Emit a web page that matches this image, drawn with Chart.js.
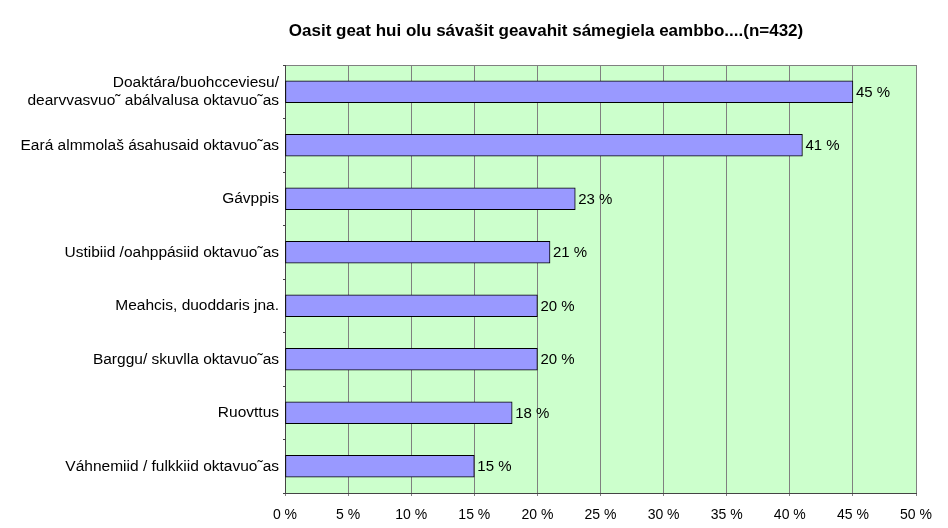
<!DOCTYPE html>
<html>
<head>
<meta charset="utf-8">
<script src="https://cdn.jsdelivr.net/npm/chart.js@4/dist/chart.umd.min.js"></script>
<style>
  html, body { margin: 0; padding: 0; background: #ffffff; }
  #wrap { width: 948px; height: 528px; position: relative; }
</style>
</head>
<body>
<div id="wrap"><canvas id="myChart"></canvas></div>
<script>
'use strict';

let chartTitle = 'Oasit geat hui olu sávašit geavahit sámegiela eambbo....(n=432)';

let categories = [
  ['Doaktára/buohcceviesu/', 'dearvvasvuo˜ abálvalusa oktavuo˜as'],
  'Eará almmolaš ásahusaid oktavuo˜as',
  'Gávppis',
  'Ustibiid /oahppásiid oktavuo˜as',
  'Meahcis, duoddaris jna.',
  'Barggu/ skuvlla oktavuo˜as',
  'Ruovttus',
  'Váhnemiid / fulkkiid oktavuo˜as'
];

let percentValues = [45, 41, 23, 21, 20, 20, 18, 15];

let xTickMin = 0;
let xTickMax = 50;
let xTickStep = 5;

let fontFamily = '"Liberation Sans", Arial, sans-serif';

// green plot background
let plotBackground = {
  id: 'plotBackground',
  beforeDraw(chart) {
    let area = chart.chartArea;
    let ctx = chart.ctx;
    ctx.save();
    ctx.fillStyle = '#ccffcc';
    ctx.fillRect(area.left, area.top, area.right - area.left, area.bottom - area.top);
    ctx.strokeStyle = '#808080';
    ctx.lineWidth = 1;
    ctx.strokeRect(Math.round(area.left) + 0.5, Math.round(area.top) + 0.5,
      Math.round(area.right - area.left), Math.round(area.bottom - area.top));
    ctx.restore();
  }
};

// value labels at the end of bars, plus the title
let barLabels = {
  id: 'barLabels',
  afterDraw(chart) {
    let ctx = chart.ctx;
    let meta = chart.getDatasetMeta(0);
    ctx.save();
    ctx.font = '15px ' + fontFamily;
    ctx.fillStyle = '#000000';
    ctx.textAlign = 'left';
    ctx.textBaseline = 'middle';
    for (let i = 0; i < meta.data.length; i++) {
      let bar = meta.data[i];
      ctx.fillText(percentValues[i] + ' %', bar.x + 3, bar.y + 1);
    }
    ctx.font = 'bold 17px ' + fontFamily;
    ctx.textAlign = 'center';
    ctx.fillText(chartTitle, 546, 31);
    ctx.restore();
  }
};

let ctx = document.getElementById('myChart').getContext('2d');
let myChart = new Chart(ctx, {
  type: 'bar',
  data: {
    labels: categories,
    datasets: [{
      data: percentValues,
      backgroundColor: '#9999ff',
      borderColor: '#000000',
      borderWidth: 1,
      borderSkipped: false,
      barThickness: 22
    }]
  },
  options: {
    indexAxis: 'y',
    responsive: true,
    maintainAspectRatio: false,
    animation: false,
    layout: {
      padding: { top: 65, right: 32, left: 0, bottom: 0 }
    },
    plugins: {
      legend: { display: false },
      tooltip: { enabled: false }
    },
    scales: {
      x: {
        min: xTickMin,
        max: xTickMax,
        ticks: {
          stepSize: xTickStep,
          color: '#000000',
          padding: 11,
          maxRotation: 0,
          font: { family: fontFamily, size: 14 },
          callback: function (v) { return v + ' %'; }
        },
        grid: {
          color: '#808080',
          lineWidth: 1,
          tickLength: 3
        },
        border: { color: '#444444', width: 1 },
        afterFit: function (scale) { scale.height = 35; }
      },
      y: {
        ticks: {
          color: '#000000',
          padding: 4,
          font: { family: fontFamily, size: 15.5 }
        },
        grid: {
          offset: true,
          drawOnChartArea: false,
          color: '#444444',
          tickLength: 2
        },
        border: { color: '#444444', width: 1 },
        afterFit: function (scale) { scale.width = 285; }
      }
    }
  },
  plugins: [plotBackground, barLabels]
});
</script>
</body>
</html>
